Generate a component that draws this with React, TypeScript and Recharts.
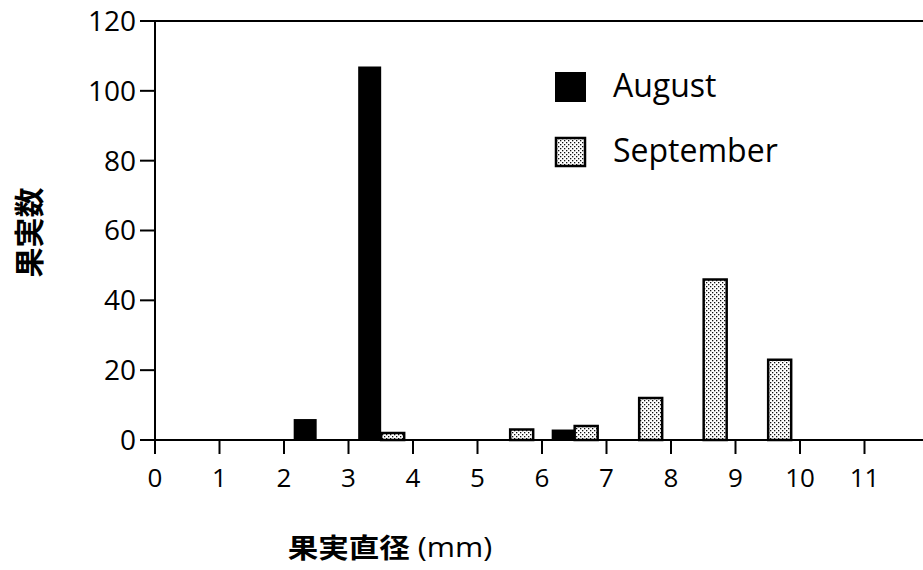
import React from 'react';
import { BarChart, Bar, XAxis, YAxis, ReferenceLine } from 'recharts';

// Fruit diameter classes (mm): each bin spans [start, start+1)
const binStarts = [0, 1, 2, 3, 4, 5, 6, 7, 8, 9, 10, 11];
const augustCounts = [0, 0, 6, 107, 0, 0, 3, 0, 0, 0, 0, 0];
const septemberCounts = [0, 0, 0, 2, 0, 3, 4, 12, 46, 23, 0, 0];
const xTicks = [0, 1, 2, 3, 4, 5, 6, 7, 8, 9, 10, 11];
const yTicks = [0, 20, 40, 60, 80, 100, 120];
const seriesNames = ['August', 'September'];
const xLabel = '果実直径';
const xUnit = ' (mm)';
const yLabel = '果実数';

const data = binStarts.map((s, i) => ({
  bin: String(s),
  mid: s + 0.5,
  august: augustCounts[i],
  september: septemberCounts[i],
}));

const FONT = '"Open Sans", "Noto Sans", sans-serif';
const CJK = '"Noto Sans CJK JP", "Noto Sans CJK SC", sans-serif';

const XLabelContent = (props: any) => {
  const vb = props.viewBox || { x: 0, y: 0 };
  const cx = vb.x + 235;
  const cy = vb.y + 106;
  return (
    <text
      x={0}
      y={0}
      transform={`translate(${cx} ${cy}) scale(1.13 1)`}
      textAnchor="middle"
      dominantBaseline="central"
      fill="#000"
    >
      <tspan fontFamily={CJK} fontWeight={700} fontSize={27}>{xLabel}</tspan>
      <tspan fontFamily={FONT} fontSize={27}>{xUnit}</tspan>
    </text>
  );
};

const YLabelContent = (props: any) => {
  const vb = props.viewBox || { x: 0, y: 0, height: 0 };
  const cx = vb.x + 27;
  const cy = vb.y + vb.height / 2 + 2;
  return (
    <text
      x={cx}
      y={cy}
      transform={`rotate(-90 ${cx} ${cy})`}
      textAnchor="middle"
      dominantBaseline="central"
      fontFamily={CJK}
      fontWeight={700}
      fontSize={30}
      fill="#000"
    >
      {yLabel}
    </text>
  );
};

export default function App() {
  return (
    <div style={{ position: 'absolute', left: 0, top: 0, width: 923, height: 570, overflow: 'hidden', background: '#fff' }}>
      <svg width={923} height={570} style={{ position: 'absolute', left: 0, top: 0, pointerEvents: 'none' }}>
        <defs>
          <pattern id="dots" patternUnits="userSpaceOnUse" width={4} height={4}>
            <rect x={0} y={0} width={4} height={4} fill="#fff" />
            <rect x={0} y={0} width={1.3} height={1.3} fill="#111" />
            <rect x={2} y={2} width={1.3} height={1.3} fill="#111" />
          </pattern>
        </defs>
      </svg>
      <div style={{ position: 'absolute', left: 0, top: 0 }}>
        <BarChart
          width={935}
          height={570}
          data={data}
          margin={{ top: 21, right: 6, bottom: 0, left: 0 }}
          barCategoryGap="15%"
          barGap={0}
        >
          <XAxis xAxisId="cat" dataKey="bin" hide height={0} />
          <XAxis
            xAxisId="num"
            type="number"
            dataKey="mid"
            domain={[0, 12]}
            allowDataOverflow
            ticks={xTicks}
            interval={0}
            height={130}
            tickSize={14}
            tickMargin={15}
            axisLine={{ stroke: '#000', strokeWidth: 2 }}
            tickLine={{ stroke: '#000', strokeWidth: 2 }}
            tick={{ fill: '#000', fontSize: 26, fontFamily: FONT }}
            label={<XLabelContent />}
          />
          <YAxis
            domain={[0, 120]}
            ticks={yTicks}
            interval={0}
            width={155}
            tickSize={15}
            tickMargin={4}
            axisLine={{ stroke: '#000', strokeWidth: 2 }}
            tickLine={{ stroke: '#000', strokeWidth: 2 }}
            tick={{ fill: '#000', fontSize: 28, fontFamily: FONT }}
            label={<YLabelContent />}
          />
          <ReferenceLine xAxisId="num" y={120} stroke="#000" strokeWidth={2} />
          <Bar
            xAxisId="cat"
            dataKey="august"
            name={seriesNames[0]}
            fill="#000"
            isAnimationActive={false}
          />
          <Bar
            xAxisId="cat"
            dataKey="september"
            name={seriesNames[1]}
            fill="url(#dots)"
            stroke="#000"
            strokeWidth={2.5}
            isAnimationActive={false}
          />
        </BarChart>
      </div>
      <svg width={923} height={570} style={{ position: 'absolute', left: 0, top: 0, pointerEvents: 'none' }}>
        <rect x={555} y={72} width={31} height={30} fill="#000" />
        <rect x={556} y={138} width={29} height={28} fill="url(#dots)" stroke="#000" strokeWidth={2.5} />
        <text x={613} y={97} fontFamily={FONT} fontSize={32} fill="#000">{seriesNames[0]}</text>
        <text x={613} y={162} fontFamily={FONT} fontSize={32} fill="#000">{seriesNames[1]}</text>
      </svg>
    </div>
  );
}
